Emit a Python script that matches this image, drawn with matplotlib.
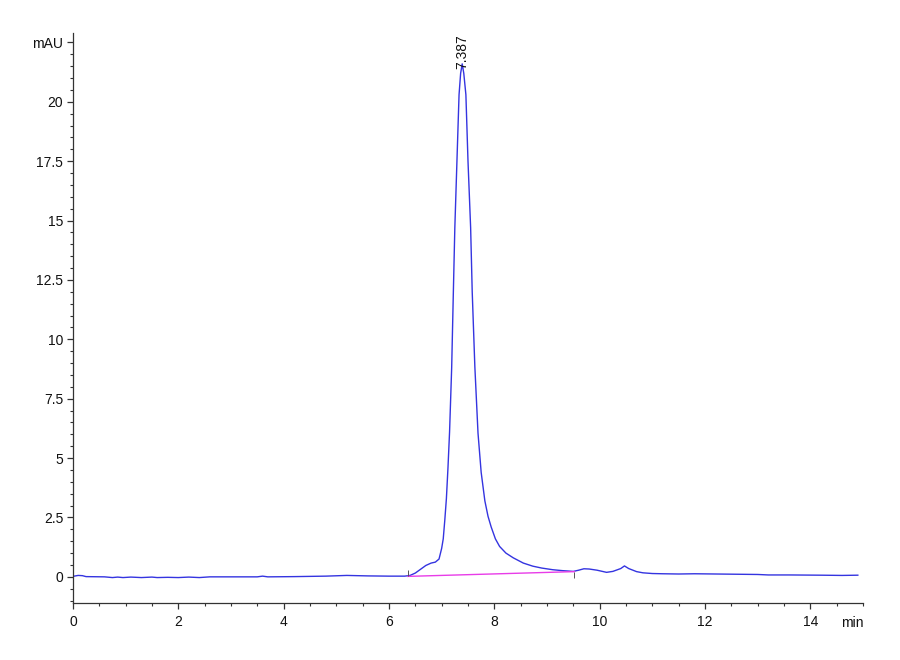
import matplotlib
matplotlib.use('Agg')
import matplotlib.pyplot as plt
from matplotlib.ticker import MultipleLocator, FixedLocator, FixedFormatter

plt.rcParams['font.family'] = ['Liberation Sans Narrow', 'Liberation Sans', 'DejaVu Sans']

# chromatogram trace (min, mAU)
time_min = [0.00, 0.10, 0.18, 0.25, 0.60, 0.75, 0.85, 0.95, 1.10, 1.30,
            1.50, 1.60, 1.80, 2.00, 2.20, 2.40, 2.60, 3.00, 3.50, 3.60,
            3.70, 4.20, 4.80, 5.20, 5.60, 6.00, 6.30, 6.40, 6.50, 6.60,
            6.70, 6.80, 6.88, 6.95, 7.00, 7.03, 7.06, 7.09, 7.12, 7.15,
            7.19, 7.22, 7.25, 7.29, 7.33, 7.36, 7.39, 7.42, 7.46, 7.50,
            7.55, 7.58, 7.63, 7.69, 7.75, 7.82, 7.88, 7.94, 8.02, 8.10,
            8.22, 8.36, 8.55, 8.73, 8.90, 9.11, 9.30, 9.50, 9.60, 9.70,
            9.80, 9.95, 10.13, 10.25, 10.40, 10.47, 10.55, 10.70, 10.82, 11.00,
            11.20, 11.50, 11.80, 12.20, 12.60, 13.00, 13.20, 13.60, 14.20, 14.60,
            14.90]
signal_mau = [0.02, 0.06, 0.05, 0.01, 0.00, -0.03, -0.01, -0.03, -0.01, -0.03,
              -0.01, -0.03, -0.02, -0.03, -0.01, -0.03, 0.00, 0.00, 0.00, 0.03,
              0.00, 0.01, 0.03, 0.06, 0.04, 0.03, 0.03, 0.06, 0.16, 0.32,
              0.48, 0.58, 0.62, 0.75, 1.20, 1.60, 2.40, 3.30, 4.60, 6.10,
              8.80, 11.80, 14.70, 17.50, 20.30, 21.20, 21.60, 21.20, 20.30, 17.50,
              14.70, 12.00, 8.85, 6.05, 4.40, 3.20, 2.55, 2.10, 1.60, 1.28,
              1.00, 0.80, 0.58, 0.45, 0.37, 0.30, 0.26, 0.23, 0.28, 0.34,
              0.33, 0.28, 0.19, 0.23, 0.35, 0.46, 0.35, 0.22, 0.17, 0.14,
              0.13, 0.12, 0.13, 0.12, 0.11, 0.10, 0.08, 0.08, 0.07, 0.06,
              0.07]

# integration baseline (start, end)
base_t = [6.36, 9.52]
base_y = [0.02, 0.22]

peak_rt = 7.387
peak_h = 21.4

yticks = [0, 2.5, 5, 7.5, 10, 12.5, 15, 17.5, 20, 22.5]
ytick_labels = ['0', '2.5', '5', '7.5', '10', '12.5', '15', '17.5', '20', 'mAU']
xticks = [0, 2, 4, 6, 8, 10, 12, 14]

axis_col = '#333333'

fig = plt.figure(figsize=(9, 6.6), dpi=100)
ax = fig.add_axes([0.081, 0.0864, 0.878, 0.8636])

ax.plot(time_min, signal_mau, color='#3434e0', lw=1.0)
ax.plot(base_t, base_y, color='#e83ce8', lw=1.0)
# start/end markers of the integration
ax.vlines(base_t[0], base_y[0], base_y[0] + 0.25, color='#555555', lw=0.7)
ax.vlines(base_t[1], base_y[1] - 0.25, base_y[1], color='#555555', lw=0.7)

ax.text(peak_rt, peak_h, '7.387', rotation=90, ha='center', va='bottom',
        fontsize=10, color='#111111')

ax.set_xlim(0, 15)
ax.set_ylim(-1.1, 22.9)

for s in ['top', 'right']:
    ax.spines[s].set_visible(False)
for s in ['left', 'bottom']:
    ax.spines[s].set_color(axis_col)
    ax.spines[s].set_linewidth(0.9)

ax.xaxis.set_major_locator(FixedLocator(xticks))
ax.xaxis.set_minor_locator(MultipleLocator(0.5))
ax.yaxis.set_major_locator(FixedLocator(yticks))
ax.yaxis.set_major_formatter(FixedFormatter(ytick_labels))
ax.yaxis.set_minor_locator(MultipleLocator(0.5))

ax.tick_params(which='major', length=4.5, width=0.9, color=axis_col,
               labelsize=10, labelcolor='#111111')
ax.tick_params(which='minor', length=2.3, width=0.8, color=axis_col)
ax.tick_params(axis='x', which='major', pad=4.5)
ax.tick_params(axis='y', which='major', pad=2.5)

ax.text(15, -1.95, 'min', ha='right', va='center', fontsize=10, color='#111111')

fig.savefig('out.png', dpi=100)
